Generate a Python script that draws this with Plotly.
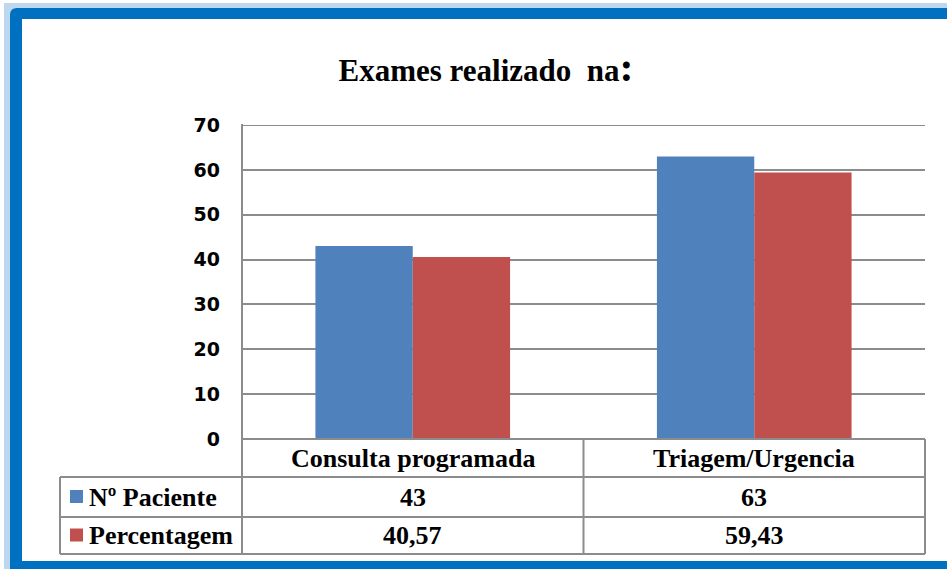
import plotly.graph_objects as go

# ---- data ----
categories = ["Consulta programada", "Triagem/Urgencia"]
series_names = ["Nº Paciente", "Percentagem"]
n_paciente = [43, 63]
percentagem = [40.57, 59.43]
y_ticks = [0, 10, 20, 30, 40, 50, 60, 70]
title_text = "Exames realizado  na"

colors = ["#4F81BD", "#C0504D"]

W, H = 947, 569
PL, PR, PT, PB = 242, 925, 125, 439  # plot area pixels


def px(x):
    return (x - PL) / (PR - PL)


def py(y):
    return (PB - y) / (PB - PT)


fig = go.Figure()
fig.add_trace(go.Bar(name=series_names[0], x=categories, y=n_paciente,
                     marker=dict(color=colors[0], line=dict(width=0))))
fig.add_trace(go.Bar(name=series_names[1], x=categories, y=percentagem,
                     marker=dict(color=colors[1], line=dict(width=0))))

shapes = []
# frame
shapes.append(dict(type="rect", xref="paper", yref="paper", layer="below",
                   x0=px(4), x1=px(1000), y0=py(3), y1=py(620),
                   fillcolor="#BDD7EE", line=dict(width=0)))
shapes.append(dict(type="path", xref="paper", yref="paper", layer="below",
                   path=(f"M {px(10)},{py(15)} Q {px(10)},{py(8)} {px(17)},{py(8)} "
                         f"L {px(1000)},{py(8)} L {px(1000)},{py(620)} L {px(10)},{py(620)} Z"),
                   fillcolor="#0070C0", line=dict(width=0)))
shapes.append(dict(type="rect", xref="paper", yref="paper", layer="below",
                   x0=px(22), x1=px(1000), y0=py(19), y1=py(561),
                   fillcolor="white", line=dict(width=0)))

gc = "#8C8C8C"
lw = 2

# top gridline (at the range edge, which plotly omits)
shapes.append(dict(type="line", xref="paper", yref="y", x0=0, x1=1,
                   y0=y_ticks[-1], y1=y_ticks[-1], line=dict(color=gc, width=lw)))


def hline(x0, x1, y):
    shapes.append(dict(type="line", xref="paper", yref="paper",
                       x0=px(x0), x1=px(x1), y0=py(y), y1=py(y),
                       line=dict(color=gc, width=lw)))


def vline(x, y0, y1):
    shapes.append(dict(type="line", xref="paper", yref="paper",
                       x0=px(x), x1=px(x), y0=py(y0), y1=py(y1),
                       line=dict(color=gc, width=lw)))


# data table lines
hline(PL, PR, 439)
hline(60, PR, 477)
hline(60, PR, 517)
hline(60, PR, 554)
vline(PL, PT - 1, 554)
vline(60, 477, 554)
vline(PR, 439, 554)
# column divider between categories (x = 0.5 in category units)
shapes.append(dict(type="line", xref="x", yref="paper", x0=0.5, x1=0.5,
                   y0=py(439), y1=py(554), line=dict(color=gc, width=lw)))

annotations = []
tfont = dict(family="Liberation Serif", size=26, color="black", weight="bold")
row_y = [497, 535.5]
for i, c in enumerate(categories):
    annotations.append(dict(xref="x", yref="paper", x=c, y=py(458), text=c,
                            showarrow=False, font=tfont, xanchor="center", yanchor="middle"))
    annotations.append(dict(xref="x", yref="paper", x=c, y=py(row_y[0]),
                            text=f"{n_paciente[i]}", showarrow=False, font=tfont,
                            xanchor="center", yanchor="middle"))
    annotations.append(dict(xref="x", yref="paper", x=c, y=py(row_y[1]),
                            text=f"{percentagem[i]:.2f}".replace(".", ","), showarrow=False,
                            font=tfont, xanchor="center", yanchor="middle"))

for k, name in enumerate(series_names):
    yc = row_y[k]
    shapes.append(dict(type="rect", xref="paper", yref="paper",
                       x0=px(70), x1=px(83), y0=py(yc - 7), y1=py(yc + 6),
                       fillcolor=colors[k], line=dict(width=0)))
    annotations.append(dict(xref="paper", yref="paper", x=px(87), y=py(yc), text=name,
                            showarrow=False, font=tfont, xanchor="left", yanchor="middle"))

fig.update_layout(
    width=W, height=H,
    margin=dict(l=PL, r=W - PR, t=PT, b=H - PB, pad=0),
    paper_bgcolor="white",
    plot_bgcolor="rgba(0,0,0,0)",
    barmode="group", bargap=0.43, bargroupgap=0,
    showlegend=False,
    title=dict(text=f"<b>{title_text}<span style='font-size:42px'>:</span></b>",
               x=486 / W, xanchor="center", xref="container",
               y=1 - 70 / H, yanchor="middle", yref="container",
               font=dict(family="Liberation Serif", size=31, color="black")),
    xaxis=dict(range=[-0.5, 1.5], showticklabels=False, showgrid=False,
               showline=False, zeroline=False, fixedrange=True),
    yaxis=dict(range=[0, 70], tickvals=y_ticks, showgrid=True, gridcolor=gc, gridwidth=lw,
               showline=False, zeroline=False, ticks="", ticklabelstandoff=21,
               tickfont=dict(family="DejaVu Sans", size=19, color="black", weight="bold")),
    shapes=shapes,
    annotations=annotations,
)

fig.write_html("out.html", config={"displayModeBar": False},
               post_script="document.body.style.margin='0';document.body.style.padding='0';")
